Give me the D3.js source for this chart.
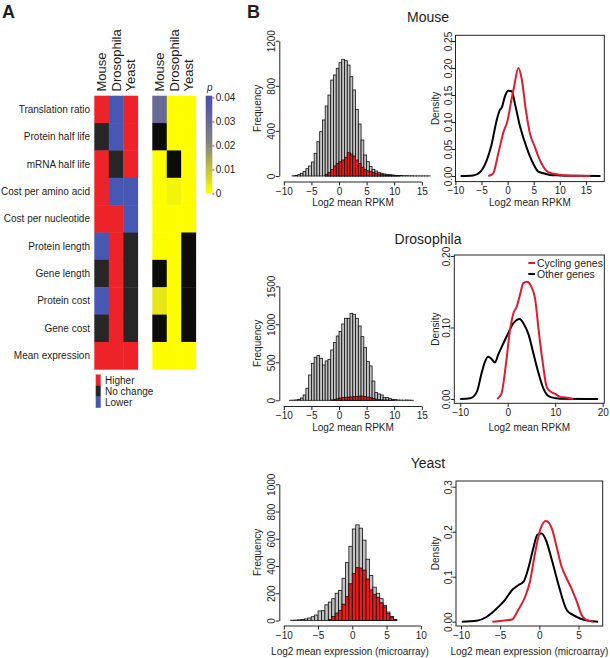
<!DOCTYPE html>
<html><head><meta charset="utf-8">
<script src="https://cdn.jsdelivr.net/npm/d3@7"></script>
<style>
body{margin:0;background:#fff}
svg{display:block;font-family:"Liberation Sans",Arial,Helvetica,sans-serif}
</style>
</head><body>
<svg id="c" width="610" height="658"></svg>
<script>
// ---------------- DATA ----------------
const traits = ["Translation ratio","Protein half life","mRNA half life","Cost per amino acid",
  "Cost per nucleotide","Protein length","Gene length","Protein cost","Gene cost","Mean expression"];
const species = ["Mouse","Drosophila","Yeast"];
const changeLevels = ["Higher","No change","Lower"];
const changeMouse      = ["Higher","No change","Higher","Higher","Higher","Lower","No change","Lower","No change","Higher"];
const changeDrosophila = ["Lower","Lower","No change","Lower","Higher","Higher","Higher","Higher","Higher","Higher"];
const changeYeast      = ["Higher","Higher","Higher","Lower","Lower","No change","No change","No change","No change","Higher"];
// p values (null = not significant, drawn black)
const pMouse      = [0.030, null, 0.0003, 0.0003, 0.0002, 0.0004, null, 0.004, null, 0.0001];
const pDrosophila = [0.0002, 0.0002, null, 0.002, 0.0002, 0.0002, 0.0002, 0.0002, 0.0002, 0.0001];
const pYeast      = [0.0002, 0.0002, 0.0002, 0.0002, 0.0002, null, null, null, null, 0.0001];
const pTicks = [0, 0.01, 0.02, 0.03, 0.04];
const pTickLabels = ["0","0.01","0.02","0.03","0.04"];

const binWidth = 0.5;
// Mouse histogram (Log2 mean RPKM)
const mouseAllStart = -8.5;
const mouseAll = [2,5,12,24,41,65,89,124,201,304,393,497,621,718,851,896,955,1005,1035,1023,984,881,763,591,461,319,186,127,83,59,44,30,24,18,15,12,9,6,5,4,3,3,2,2,1,1,1,1,1,1];
const mouseCycStart = -2.5;
const mouseCyc = [15,30,59,89,112,127,142,166,207,195,177,142,112,77,59,47,38,30,24,18,12,9,6,6,3,2,1];
// Drosophila histogram
const drosAllStart = -9;
const drosAll = [1,2,5,13,31,70,158,333,487,566,588,553,465,518,539,662,759,846,904,1004,1079,1079,1145,1132,1079,978,838,693,509,452,254,101,83,70,39,35,22,13,9,4,3,2,4,2,1];
const drosCycStart = -1.5;
const drosCyc = [5,12,20,30,38,40,42,45,48,52,55,55,50,42,35,25,15,8,5,3,2,2,3];
// Yeast histogram (Log2 mean expression, microarray)
const yeastAllStart = -9;
const yeastAll = [2,3,5,8,12,18,28,40,70,72,115,135,160,200,220,310,425,545,672,702,678,590,450,330,245,200,160,110,62,30,8];
const yeastCycStart = -3.5;
const yeastCyc = [8,30,55,75,120,175,270,345,388,385,370,305,225,190,170,130,100,52,25,5];

// Density curves [x, density]
const mouseDensOther = [[-9,0],[-6.6,0.001],[-5.3,0.007],[-4,0.029],[-3.1,0.057],[-2.1,0.103],[-1.5,0.122],[-1.1,0.127],[-0.5,0.148],[0.1,0.158],[0.8,0.157],[1.4,0.134],[2.4,0.091],[3.7,0.051],[4.9,0.023],[5.9,0.008],[6.9,0.005],[8.1,0.002],[10,0.001],[13,0.0003],[17.8,0]];
const mouseDensCyc = [[-3.7,0],[-2.8,0.004],[-1.8,0.041],[-0.8,0.081],[0,0.103],[0.6,0.134],[1.3,0.168],[2.05,0.2],[2.7,0.18],[3.5,0.122],[4.3,0.078],[5.1,0.057],[5.7,0.041],[6.5,0.023],[7.8,0.007],[10,0.0025],[13.3,0.0003],[15.8,0]];
const drosDensOther = [[-10,0],[-7.9,0.001],[-6.5,0.010],[-5.5,0.036],[-4.8,0.052],[-4.1,0.059],[-3.4,0.056],[-2.7,0.051],[-2.0,0.062],[-0.9,0.078],[0.1,0.092],[1.2,0.106],[2.5,0.112],[3.3,0.106],[4.4,0.090],[5.4,0.064],[6.5,0.036],[7.5,0.015],[8.9,0.003],[11,0.0005],[19,0]];
const drosDensCyc = [[-2.2,0],[-1.3,0.008],[-0.35,0.05],[0.5,0.097],[1.2,0.120],[1.9,0.129],[2.6,0.146],[3.3,0.162],[4.1,0.164],[4.9,0.158],[5.8,0.139],[6.5,0.097],[7.4,0.050],[8.2,0.017],[9.1,0.010],[10,0.007],[11,0.003],[12.1,0.002],[13.8,0]];
const yeastDensOther = [[-9.9,0],[-8,0.002],[-6.7,0.011],[-5.4,0.030],[-4.4,0.048],[-3.5,0.070],[-2.7,0.081],[-2.0,0.089],[-1.4,0.119],[-0.77,0.163],[-0.26,0.193],[0.3,0.196],[0.85,0.181],[1.6,0.137],[2.4,0.085],[3.5,0.026],[4.3,0.015],[5.2,0.007],[6.3,0.002],[7.5,0]];
const yeastDensCyc = [[-6,0],[-3.5,0.005],[-2.7,0.026],[-1.8,0.056],[-1.2,0.089],[-0.55,0.152],[0.1,0.204],[0.85,0.224],[1.6,0.207],[2.2,0.167],[2.85,0.122],[3.5,0.096],[4.1,0.074],[4.8,0.044],[5.4,0.015],[6.0,0.004],[6.9,0]];

const legendLabels = ["Cycling genes","Other genes"];
const rpkmTicks = [-10,-5,0,5,10,15];
const drosDensXTicks = [-10,0,10,20];
const yeastXTicks = [-10,-5,0,5,10];
const yeastDensXTicks = [-10,-5,0,5];
const mouseFreqTicks = [0,400,800,1200];
const drosFreqTicks = [0,500,1000,1500];
const yeastFreqTicks = [0,200,400,600,800,1000];
const mouseDensTicks = [0,0.05,0.10,0.15,0.20,0.25];
const mouseDensTickLabels = ["0.00","0.05","0.10","0.15","0.20","0.25"];
const drosDensTicks = [0,0.10,0.20];
const drosDensTickLabels = ["0.00","0.10","0.20"];
const yeastDensTicks = [0,0.1,0.2,0.3];
const yeastDensTickLabels = ["0.00","0.1","0.2","0.3"];

// ---------------- DRAW ----------------
const svg = d3.select("#c");
const TXT = "#1e1e1e";
const RED = "#ee2229", BLUE = "#4657b4", DARK = "#262626";
const LINE_RED = "#e31a2f";

svg.append("text").attr("x",2).attr("y",18).attr("font-size",18).attr("font-weight","bold").attr("fill",TXT).text("A");
svg.append("text").attr("x",247).attr("y",18).attr("font-size",18).attr("font-weight","bold").attr("fill",TXT).text("B");

// --- Panel A heatmaps
const rowBand = d3.scaleBand().domain(traits).range([95.7, 369.3]);
const colA = d3.scaleBand().domain(species).range([94.3, 137.7]);
const colB = d3.scaleBand().domain(species).range([152.3, 195.7]);
const changeColor = d3.scaleOrdinal().domain(changeLevels).range([RED, DARK, BLUE]);
const pColor = d3.scaleLinear().domain([0, 0.02, 0.04]).range(["#ffff00", "#85857a", "#4a4cb2"]);
const changeBy = {Mouse: changeMouse, Drosophila: changeDrosophila, Yeast: changeYeast};
const pBy = {Mouse: pMouse, Drosophila: pDrosophila, Yeast: pYeast};

const cellsA = species.flatMap(s => traits.map((t,i) => ({s, t, v: changeBy[s][i]})));
const cellsB = species.flatMap(s => traits.map((t,i) => ({s, t, p: pBy[s][i]})));
svg.append("g").selectAll("rect").data(cellsA).join("rect")
  .attr("x", d => colA(d.s)).attr("y", d => rowBand(d.t))
  .attr("width", colA.bandwidth() + 0.4).attr("height", rowBand.bandwidth() + 0.4)
  .attr("fill", d => changeColor(d.v));
svg.append("g").selectAll("rect").data(cellsB).join("rect")
  .attr("x", d => colB(d.s)).attr("y", d => rowBand(d.t))
  .attr("width", colB.bandwidth() + 0.4).attr("height", rowBand.bandwidth() + 0.4)
  .attr("fill", d => d.p === null ? "#0b0b0b" : pColor(d.p));

// row labels
svg.append("g").selectAll("text").data(traits).join("text")
  .attr("x", 90).attr("y", d => rowBand(d) + rowBand.bandwidth()/2)
  .attr("text-anchor","end").attr("dominant-baseline","central")
  .attr("font-size", 10).attr("fill", TXT).text(d => d);
// column headers
[colA, colB].forEach(col => {
  svg.append("g").selectAll("text").data(species).join("text")
    .attr("transform", d => `translate(${col(d) + col.bandwidth()/2},91.5) rotate(-90)`)
    .attr("dominant-baseline","central").attr("font-size", 13).attr("fill", TXT).text(d => d);
});

// colour bar
const defs = svg.append("defs");
const grad = defs.append("linearGradient").attr("id","pg").attr("x1",0).attr("y1",1).attr("x2",0).attr("y2",0);
d3.range(0, 1.0001, 0.1).forEach(f => grad.append("stop").attr("offset", f).attr("stop-color", pColor(f*0.04)));
const pScale = d3.scaleLinear().domain([0, 0.04]).range([193.5, 97.5]);
svg.append("rect").attr("x",205.7).attr("y",95.7).attr("width",6.6).attr("height",97.6).attr("fill","url(#pg)");
const pAxis = svg.append("g").attr("transform","translate(212.3,0)")
  .call(d3.axisRight(pScale).tickValues(pTicks).tickFormat((d,i) => pTickLabels[i]).tickSize(2).tickPadding(1.5));
pAxis.select(".domain").remove();
pAxis.selectAll("line").attr("stroke","#555");
pAxis.selectAll("text").attr("font-size",10).attr("fill",TXT).attr("font-family",null);
svg.append("text").attr("x",207).attr("y",91).attr("font-size",10).attr("font-style","italic").attr("fill","#2a2a55").text("p");

// change legend
const legY = d3.scaleBand().domain(changeLevels).range([374.5, 407.5]);
svg.append("g").selectAll("rect").data(changeLevels).join("rect")
  .attr("x",95.7).attr("y", d => legY(d)).attr("width",5).attr("height", legY.bandwidth()+0.3)
  .attr("fill", d => changeColor(d));
svg.append("g").selectAll("text").data(changeLevels).join("text")
  .attr("x",105).attr("y", d => legY(d) + legY.bandwidth()/2)
  .attr("dominant-baseline","central").attr("font-size",10).attr("fill",TXT).text(d => d);

// --- Panel B
function styleAxisText(g, size) {
  g.selectAll("text").attr("font-size", size).attr("fill", TXT).attr("font-family", null);
  g.selectAll("line").attr("stroke", "#222");
  g.select(".domain").attr("stroke", "#222");
}
function leftAxis(y, ax, ticks, labels) {
  const g = svg.append("g").attr("transform", `translate(${ax},0)`)
    .call(d3.axisLeft(y).tickValues(ticks).tickFormat((d,i) => labels ? labels[i] : d).tickSize(3.5).tickSizeOuter(0));
  styleAxisText(g, 10);
  g.selectAll("text").attr("transform","rotate(-90)").attr("x",0).attr("y",-7.5).attr("dy",null)
    .attr("text-anchor","middle").attr("dominant-baseline","central");
  return g;
}
function bottomAxis(x, ay, ticks) {
  const g = svg.append("g").attr("transform", `translate(0,${ay})`)
    .call(d3.axisBottom(x).tickValues(ticks).tickSize(3.5).tickSizeOuter(0).tickPadding(2));
  styleAxisText(g, 10);
  return g;
}

function drawHist(c) {
  const x = d3.scaleLinear().domain(c.xDomain).range(c.xRange);
  const y = d3.scaleLinear().domain(c.yDomain).range(c.yRange);
  const bars = (counts, start, fill) => svg.append("g").selectAll("rect")
    .data(counts.map((n,i) => ({x0: start + i*binWidth, x1: start + (i+1)*binWidth, n})))
    .join("rect")
    .attr("x", d => x(d.x0)).attr("width", d => x(d.x1) - x(d.x0))
    .attr("y", d => y(d.n)).attr("height", d => y(0) - y(d.n))
    .attr("fill", fill).attr("stroke", "#111").attr("stroke-width", 0.8);
  bars(c.all, c.allStart, "#c2c2c2");
  bars(c.cyc, c.cycStart, "#f01818");
  leftAxis(y, c.axisX, c.yTicks);
  const gx = bottomAxis(x, c.axisY, c.xTicks);
  gx.select(".domain").attr("d", `M${x(c.xTicks[0])},0H${x(c.xTicks[c.xTicks.length-1])}`);
  svg.append("text").attr("transform", `translate(${c.yTitleX},${(c.yRange[0]+c.yRange[1])/2}) rotate(-90)`)
    .attr("text-anchor","middle").attr("dominant-baseline","central").attr("font-size",10).attr("fill",TXT).text("Frequency");
  svg.append("text").attr("x", c.titleX).attr("y", c.titleY).attr("text-anchor","middle")
    .attr("font-size",10).attr("fill",TXT).text(c.xTitle);
}

function drawDensity(c) {
  const x = d3.scaleLinear().domain(c.xDomain).range(c.xRange);
  const y = d3.scaleLinear().domain(c.yDomain).range(c.yRange);
  const line = d3.line().x(d => x(d[0])).y(d => y(d[1])).curve(d3.curveMonotoneX);
  svg.append("path").datum(c.other).attr("d", line).attr("fill","none").attr("stroke","#000").attr("stroke-width",2);
  svg.append("path").datum(c.cyc).attr("d", line).attr("fill","none").attr("stroke",LINE_RED).attr("stroke-width",2);
  svg.append("rect").attr("x", c.box[0]).attr("y", c.box[2]).attr("width", c.box[1]-c.box[0]).attr("height", c.box[3]-c.box[2])
    .attr("fill","none").attr("stroke","#222").attr("stroke-width",1);
  const gy = leftAxis(y, c.box[0], c.yTicks, c.yLabels); gy.select(".domain").remove();
  const gx = bottomAxis(x, c.box[3], c.xTicks); gx.select(".domain").remove();
  svg.append("text").attr("transform", `translate(435,${(c.box[2]+c.box[3])/2}) rotate(-90)`)
    .attr("text-anchor","middle").attr("dominant-baseline","central").attr("font-size",10).attr("fill",TXT).text("Density");
  svg.append("text").attr("x", (c.box[0]+c.box[1])/2).attr("y", c.titleY).attr("text-anchor","middle")
    .attr("font-size",10).attr("fill",TXT).text(c.xTitle);
  if (c.legend) {
    const ly = d3.scaleBand().domain(legendLabels).range([257.5, 279.5]);
    const lc = d3.scaleOrdinal().domain(legendLabels).range([LINE_RED, "#000"]);
    svg.append("g").selectAll("line").data(legendLabels).join("line")
      .attr("x1",528.3).attr("x2",535).attr("y1", d => ly(d)+ly.bandwidth()/2).attr("y2", d => ly(d)+ly.bandwidth()/2)
      .attr("stroke", d => lc(d)).attr("stroke-width",2);
    svg.append("g").selectAll("text").data(legendLabels).join("text")
      .attr("x",537).attr("y", d => ly(d)+ly.bandwidth()/2).attr("dominant-baseline","central")
      .attr("font-size",10.5).attr("fill",TXT).text(d => d);
  }
}

// titles
const speciesTitleY = [22, 244, 468];
svg.append("g").selectAll("text").data(species).join("text")
  .attr("x", 428).attr("y", (d,i) => speciesTitleY[i]).attr("text-anchor","middle")
  .attr("font-size",14).attr("fill",TXT).text(d => d);

drawHist({xDomain:[-10,15], xRange:[283.8,421.8], yDomain:[0,1200], yRange:[176,40.7],
  all: mouseAll, allStart: mouseAllStart, cyc: mouseCyc, cycStart: mouseCycStart,
  axisX: 279.3, axisY: 182, yTicks: mouseFreqTicks, xTicks: rpkmTicks,
  yTitleX: 257, titleX: 353, titleY: 205.5, xTitle: "Log2 mean RPKM"});
drawDensity({xDomain:[-10,15], xRange:[455.4,585.9], yDomain:[0,0.25], yRange:[176,41],
  box:[455.5,604.3,35.3,181.6], other: mouseDensOther, cyc: mouseDensCyc,
  yTicks: mouseDensTicks, yLabels: mouseDensTickLabels, xTicks: rpkmTicks, titleY: 205.5, xTitle: "Log2 mean RPKM"});

drawHist({xDomain:[-10,15], xRange:[283.8,421.8], yDomain:[0,1500], yRange:[400.3,286.3],
  all: drosAll, allStart: drosAllStart, cyc: drosCyc, cycStart: drosCycStart,
  axisX: 279.3, axisY: 406.5, yTicks: drosFreqTicks, xTicks: rpkmTicks,
  yTitleX: 257, titleX: 353, titleY: 430.5, xTitle: "Log2 mean RPKM"});
drawDensity({xDomain:[-10,20], xRange:[460.2,602.7], yDomain:[0,0.2], yRange:[399,256],
  box:[454.3,604.3,255,403.3], other: drosDensOther, cyc: drosDensCyc,
  yTicks: drosDensTicks, yLabels: drosDensTickLabels, xTicks: drosDensXTicks, titleY: 430.5, xTitle: "Log2 mean RPKM", legend: true});

drawHist({xDomain:[-10,10], xRange:[283.8,420.8], yDomain:[0,1000], yRange:[620.5,484.3],
  all: yeastAll, allStart: yeastAllStart, cyc: yeastCyc, cycStart: yeastCycStart,
  axisX: 279.3, axisY: 626, yTicks: yeastFreqTicks, xTicks: yeastXTicks,
  yTitleX: 257, titleX: 350, titleY: 654.5, xTitle: "Log2 mean expression (microarray)"});
drawDensity({xDomain:[-10,5], xRange:[461,578.5], yDomain:[0,0.3], yRange:[621.7,486.7],
  box:[456,602.7,481,626], other: yeastDensOther, cyc: yeastDensCyc,
  yTicks: yeastDensTicks, yLabels: yeastDensTickLabels, xTicks: yeastDensXTicks, titleY: 654.5, xTitle: "Log2 mean expression (microarray)"});
</script>
</body></html>
